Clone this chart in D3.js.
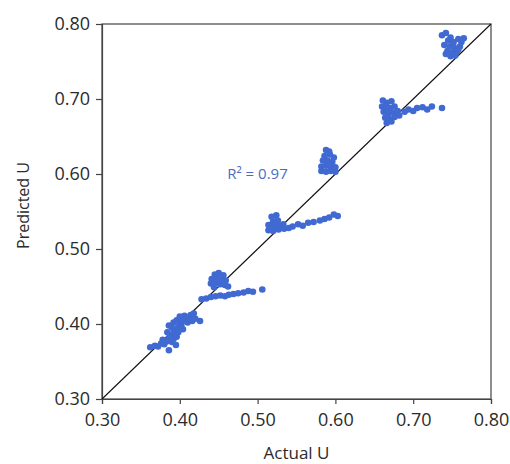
<!DOCTYPE html>
<html>
<head>
<meta charset="utf-8">
<script src="https://cdn.jsdelivr.net/npm/d3@7"></script>
<style>
  html, body { margin: 0; padding: 0; background: #fff; }
  svg { display: block; font-family: "Open Sans", sans-serif; }
</style>
</head>
<body>
<div id="chart"></div>
<script>
// ---- Data (Actual U, Predicted U) ----
const clusterA = [[0.737,0.785],[0.742,0.788],[0.748,0.782],[0.745,0.778],[0.752,0.776],[0.758,0.780],[0.765,0.781],[0.762,0.776],[0.740,0.772],[0.747,0.770],[0.753,0.768],[0.760,0.770],[0.744,0.764],[0.750,0.762],[0.756,0.763],[0.748,0.757],[0.754,0.758],[0.742,0.760],[0.758,0.766],[0.751,0.773]];
const clusterB = [[0.661,0.698],[0.666,0.695],[0.672,0.697],[0.664,0.690],[0.670,0.688],[0.676,0.690],[0.662,0.683],[0.668,0.680],[0.674,0.682],[0.680,0.684],[0.664,0.675],[0.670,0.673],[0.676,0.676],[0.666,0.668],[0.672,0.670],[0.682,0.678],[0.668,0.686],[0.660,0.690],
  [0.689,0.683],[0.694,0.686],[0.700,0.684],[0.705,0.688],[0.712,0.689],[0.718,0.686],[0.724,0.690],[0.737,0.688]];
const clusterC = [[0.588,0.632],[0.592,0.630],[0.586,0.624],[0.593,0.626],[0.598,0.622],[0.584,0.618],[0.590,0.618],[0.596,0.616],[0.582,0.610],[0.588,0.611],[0.594,0.610],[0.600,0.609],[0.582,0.604],[0.588,0.603],[0.594,0.604],[0.600,0.603],[0.591,0.614]];
const clusterD = [[0.518,0.543],[0.524,0.545],[0.520,0.537],[0.526,0.538],[0.514,0.532],[0.520,0.530],[0.527,0.531],[0.533,0.533],[0.514,0.525],[0.520,0.524],[0.527,0.526],[0.534,0.527],[0.540,0.528],[0.517,0.528],[0.523,0.534],
  [0.545,0.530],[0.552,0.533],[0.558,0.531],[0.565,0.535],[0.572,0.536],[0.580,0.538],[0.586,0.540],[0.592,0.542],[0.598,0.546],[0.603,0.544]];
const clusterE = [[0.445,0.466],[0.450,0.468],[0.456,0.465],[0.441,0.460],[0.447,0.461],[0.453,0.460],[0.459,0.458],[0.440,0.454],[0.446,0.455],[0.452,0.453],[0.458,0.452],[0.462,0.450],[0.444,0.449],[0.450,0.458],
  [0.428,0.433],[0.434,0.434],[0.440,0.436],[0.446,0.437],[0.452,0.438],[0.458,0.437],[0.463,0.439],[0.469,0.440],[0.475,0.441],[0.482,0.442],[0.488,0.444],[0.494,0.443],[0.506,0.446]];
const clusterF = [[0.362,0.369],[0.368,0.371],[0.372,0.370],[0.376,0.374],[0.380,0.373],[0.384,0.377],[0.378,0.379],[0.386,0.381],[0.390,0.376],[0.388,0.385],[0.384,0.389],[0.392,0.388],[0.396,0.383],[0.394,0.392],[0.390,0.395],[0.398,0.396],[0.386,0.398],[0.392,0.402],[0.400,0.401],[0.396,0.405],[0.404,0.404],[0.402,0.398],[0.408,0.406],[0.400,0.410],[0.406,0.411],[0.412,0.409],[0.410,0.402],[0.416,0.404],[0.414,0.412],[0.420,0.407],[0.426,0.404],[0.418,0.414],[0.392,0.380],[0.398,0.389],[0.404,0.393],[0.386,0.365],[0.395,0.372]];

const tickValues = [0.30, 0.40, 0.50, 0.60, 0.70, 0.80];
const xLabel = "Actual U";
const yLabel = "Predicted U";
const r2Label = "R² = 0.97";
const r2Pos = [0.461, 0.594];

const points = [].concat(clusterA, clusterB, clusterC, clusterD, clusterE, clusterF);

// ---- Layout ----
const W = 510, H = 464;
const margin = {left: 102, top: 24, right: 19, bottom: 65};
const x = d3.scaleLinear().domain([0.30, 0.80]).range([margin.left, W - margin.right]);
const y = d3.scaleLinear().domain([0.30, 0.80]).range([H - margin.bottom, margin.top]);

const svg = d3.select("#chart").append("svg").attr("width", W).attr("height", H);

// frame
svg.append("rect")
  .attr("x", x(0.30)).attr("y", y(0.80))
  .attr("width", x(0.80) - x(0.30)).attr("height", y(0.30) - y(0.80))
  .attr("fill", "none").attr("stroke", "#444").attr("stroke-width", 1.2);

const fmt = d3.format(".2f");
const xAxis = svg.append("g").attr("transform", `translate(0,${y(0.30)})`)
  .call(d3.axisBottom(x).tickValues(tickValues).tickFormat(fmt).tickSize(5).tickPadding(9));
const yAxis = svg.append("g").attr("transform", `translate(${x(0.30)},0)`)
  .call(d3.axisLeft(y).tickValues(tickValues).tickFormat(fmt).tickSize(6).tickPadding(6));
[xAxis, yAxis].forEach(g => {
  g.select(".domain").attr("stroke", "#444").attr("stroke-width", 1.2);
  g.selectAll(".tick line").attr("stroke", "#444").attr("stroke-width", 1.2);
  g.selectAll(".tick text").attr("fill", "#2b2b2b").style("font-size", "18px").style("font-family", "Open Sans, sans-serif");
});

// 1:1 line
svg.append("line")
  .attr("x1", x(0.30)).attr("y1", y(0.30)).attr("x2", x(0.80)).attr("y2", y(0.80))
  .attr("stroke", "#111").attr("stroke-width", 1.1);

// points
svg.append("g").selectAll("circle").data(points).join("circle")
  .attr("cx", d => x(d[0])).attr("cy", d => y(d[1])).attr("r", 3.3)
  .attr("fill", "#4169d2");

// R2 label
svg.append("text").attr("x", x(r2Pos[0])).attr("y", y(r2Pos[1]))
  .attr("fill", "#4a6cc8").style("font-size", "15px").text(r2Label);

// axis titles
svg.append("text").attr("x", (x(0.30) + x(0.80)) / 2).attr("y", 459)
  .attr("text-anchor", "middle").attr("fill", "#2b2b2b").style("font-size", "17px").text(xLabel);
svg.append("text").attr("transform", `translate(29,${(y(0.30) + y(0.80)) / 2 - 6}) rotate(-90)`)
  .attr("text-anchor", "middle").attr("fill", "#2b2b2b").style("font-size", "16px").text(yLabel);
</script>
</body>
</html>
